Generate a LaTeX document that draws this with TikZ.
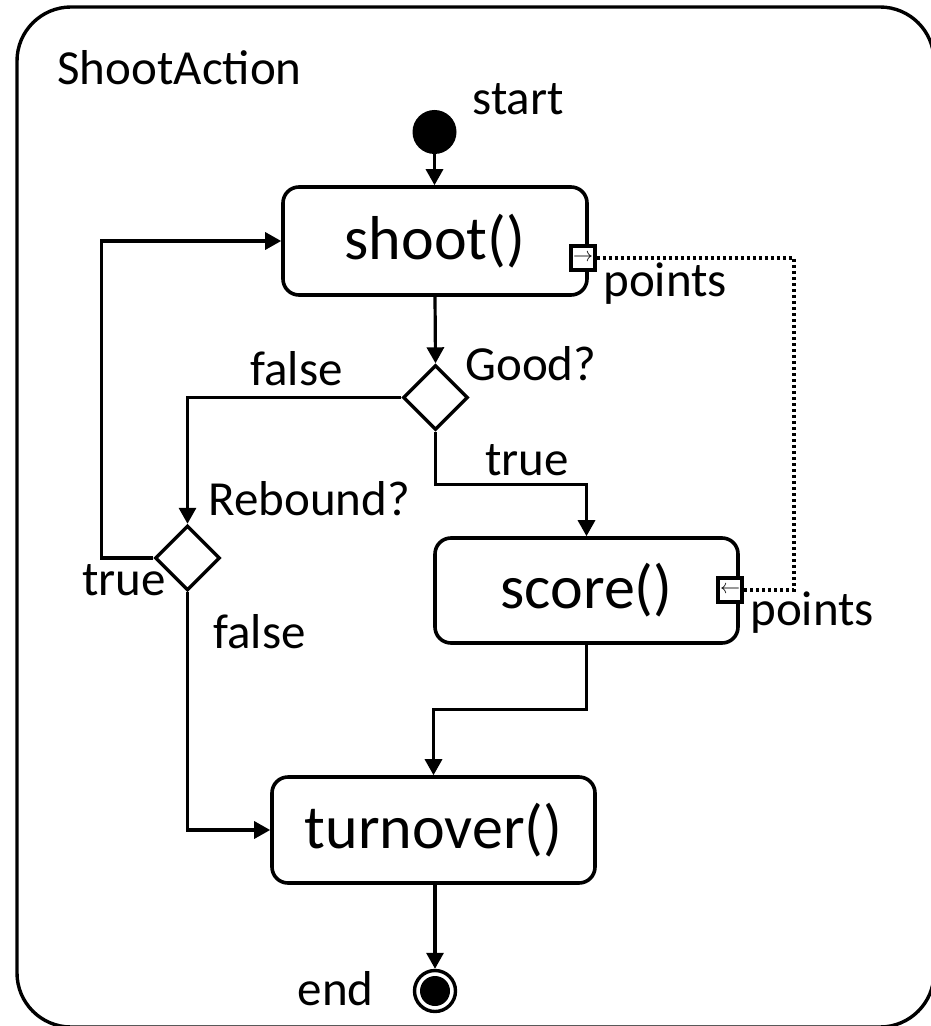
\documentclass[tikz,border=0pt]{standalone}
\usepackage{fontspec}
\setmainfont{Carlito}
\usetikzlibrary{arrows.meta,shapes.geometric}

\tikzset{
    action/.style={draw,line width=1.8pt,rounded corners=8pt,inner sep=0pt,
        font=\fontsize{31}{37}\selectfont},
    decision/.style={draw,diamond,line width=1.7pt,minimum size=32.5pt,inner sep=0pt},
    pinbox/.style={draw,fill=white,line width=1.7pt,minimum size=12pt,inner sep=0pt,
        font=\fontsize{10}{10}\selectfont},
    flow/.style={line width=1.6pt,-{Triangle[length=8pt,width=8.5pt]}},
    objflow/.style={line width=1.8pt,dash pattern=on 1.5pt off 1.5pt},
    lbl/.style={inner sep=0pt,font=\fontsize{24.5}{29}\selectfont}
}

\begin{document}
\begin{tikzpicture}[x=0.5pt,y=-0.5pt]
        \useasboundingbox (0,0) rectangle (930,1026);
        %% Frame
        \draw[line width=1.7pt,rounded corners=27pt] (17,7) rectangle (934,1027);
        \node[lbl,anchor=base west] (title) at (57,85) {ShootAction};
        %% Initial and final nodes
        \node[circle,fill,inner sep=0pt,minimum size=22pt] (start) at (434.5,132) {};
        \node[circle,draw,line width=1.7pt,inner sep=0pt,minimum size=20.5pt] (finish) at (435,991) {};
            \fill (finish) circle [radius=7.5pt];
        %% Actions
        \node[action,minimum width=152pt,minimum height=54pt]   (shoot)    at (435,241)   {shoot()};
        \node[action,minimum width=151.5pt,minimum height=52.5pt] (score)  at (586.5,590.5) {score()};
        \node[action,minimum width=161.5pt,minimum height=53pt] (turnover) at (433.5,830) {turnover()};
        %% Decisions
        \node[decision] (good)    at (435.5,397.5) {};
        \node[decision] (rebound) at (187.5,558)   {};
        %% Pins
        \node[pinbox] (shootpin) at (583,258) {$\rightarrow$};
        \node[pinbox] (scorepin) at (730,590) {$\leftarrow$};
        %% Control flow
        \draw[flow] (start) -- (start |- shoot.north);
        \draw[flow] (shoot.south) -- (good.north);
        \draw[flow] (good.west) -| (rebound.north);
        \draw[flow] (good.south) -- ++(0,53) -| (score.north);
        \draw[flow] (rebound.west) -- ++(-52,0) |- (shoot.west);
        \draw[flow] (rebound.south) |- (turnover.west);
        \draw[flow] (score.south) -- ++(0,65) -| (turnover.north);
        \draw[flow] (turnover.south) -- (turnover.south -| finish.north) -- (finish.north);
        %% Object flow
        \draw[objflow] (shootpin.east) -- ++(197,0) |- (scorepin.east);
        %% Labels
        \node[lbl,anchor=base west] (startlbl)   at (472,115)  {start};
        \node[lbl,anchor=base west] (shootout)   at (603,297)  {points};
        \node[lbl,anchor=base west] (scorein)    at (750,625)  {points};
        \node[lbl,anchor=base west] (goodlbl)    at (465,380)  {Good?};
        \node[lbl,anchor=base west] (goodfalse)  at (250,385)  {false};
        \node[lbl,anchor=base west] (goodtrue)   at (485,475)  {true};
        \node[lbl,anchor=base west] (reblbl)     at (208,515)  {Rebound?};
        \node[lbl,anchor=base west] (rebtrue)    at (82,595)   {true};
        \node[lbl,anchor=base west] (rebfalse)   at (213,648)  {false};
        \node[lbl,anchor=base east] (finishlbl)  at (374,1005) {end};
    \end{tikzpicture}
\end{document}
